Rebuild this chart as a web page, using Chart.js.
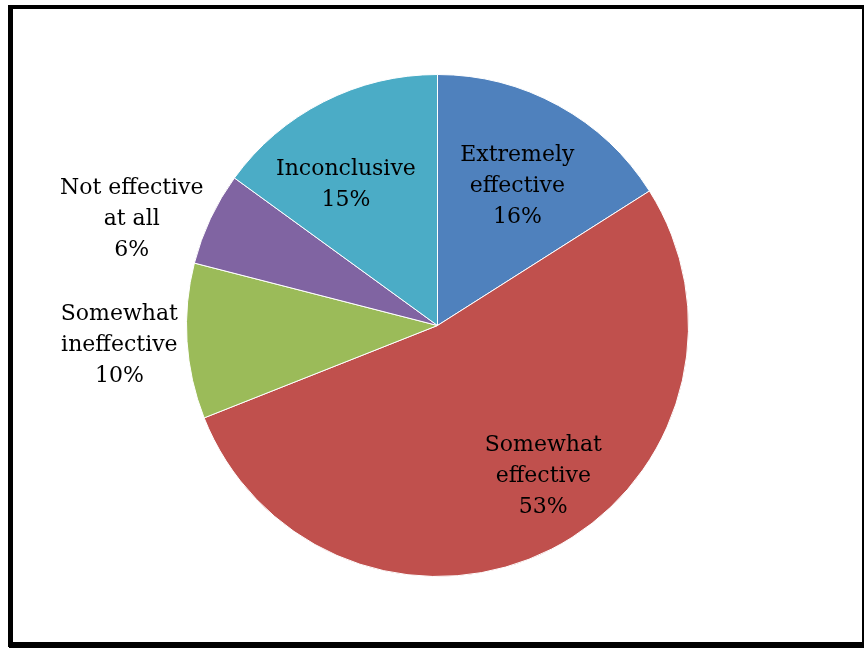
<!DOCTYPE html>
<html>
<head>
<meta charset="utf-8">
<script src="https://cdn.jsdelivr.net/npm/chart.js@4.4.1/dist/chart.umd.min.js"></script>
<style>
  html, body { margin: 0; padding: 0; background: #fff; }
  #frame {
    position: absolute; left: 8px; top: 5px;
    width: 849px; height: 633px;
    border-style: solid; border-color: #000;
    border-width: 4px 4px 5px 5px;
    box-shadow: 1px 2px 0 #000;
  }
  #wrap { position: absolute; left: 0; top: 0; width: 864px; height: 648px; }
</style>
</head>
<body>
<div id="frame"></div>
<div id="wrap"><canvas id="pie-chart" width="864" height="648"></canvas></div>
<script>
// survey answers, clockwise from 12 o'clock
var categories = ["Extremely effective", "Somewhat effective", "Somewhat ineffective", "Not effective at all", "Inconclusive"];
var shares = [16, 53, 10, 6, 15];
var labelLines = [
  ["Extremely", "effective"],
  ["Somewhat", "effective"],
  ["Somewhat", "ineffective"],
  ["Not effective", "at all"],
  ["Inconclusive"]
];
var colors = ["#4F81BD", "#C0504D", "#9BBB59", "#8064A2", "#4BACC6"];

// where each label sits: distance as a fraction of the radius, and a small turn in degrees
var labelDist = [0.64, 0.735, 1.27, 1.29, 0.67];
var labelTurn = [1, -8, 0, -6, -6];

var pieLabels = {
  id: 'pieLabels',
  afterDatasetsDraw: function(chart) {
    var ctx = chart.ctx;
    var meta = chart.getDatasetMeta(0);
    ctx.save();
    ctx.font = '22px "DejaVu Serif"';
    ctx.fillStyle = '#000';
    ctx.textAlign = 'center';
    ctx.textBaseline = 'middle';
    meta.data.forEach(function(arc, i) {
      var p = arc.getProps(['x', 'y', 'startAngle', 'endAngle', 'outerRadius'], true);
      var mid = (p.startAngle + p.endAngle) / 2 + labelTurn[i] * Math.PI / 180;
      var r = p.outerRadius * labelDist[i];
      var cx = p.x + Math.cos(mid) * r;
      var cy = p.y + Math.sin(mid) * r;
      var lines = labelLines[i].concat([shares[i] + '%']);
      var lh = 31;
      var top = cy - (lines.length - 1) * lh / 2;
      lines.forEach(function(t, k) {
        ctx.fillText(t, cx, top + k * lh);
      });
    });
    ctx.restore();
  }
};

new Chart(document.getElementById('pie-chart'), {
  type: 'pie',
  data: {
    labels: categories,
    datasets: [{
      data: shares,
      backgroundColor: colors,
      borderColor: '#ffffff',
      borderWidth: 1
    }]
  },
  options: {
    responsive: false,
    animation: false,
    layout: { padding: { left: 186, right: 175, top: 74, bottom: 71 } },
    plugins: {
      legend: { display: false },
      tooltip: { enabled: false }
    }
  },
  plugins: [pieLabels]
});
</script>
</body>
</html>
